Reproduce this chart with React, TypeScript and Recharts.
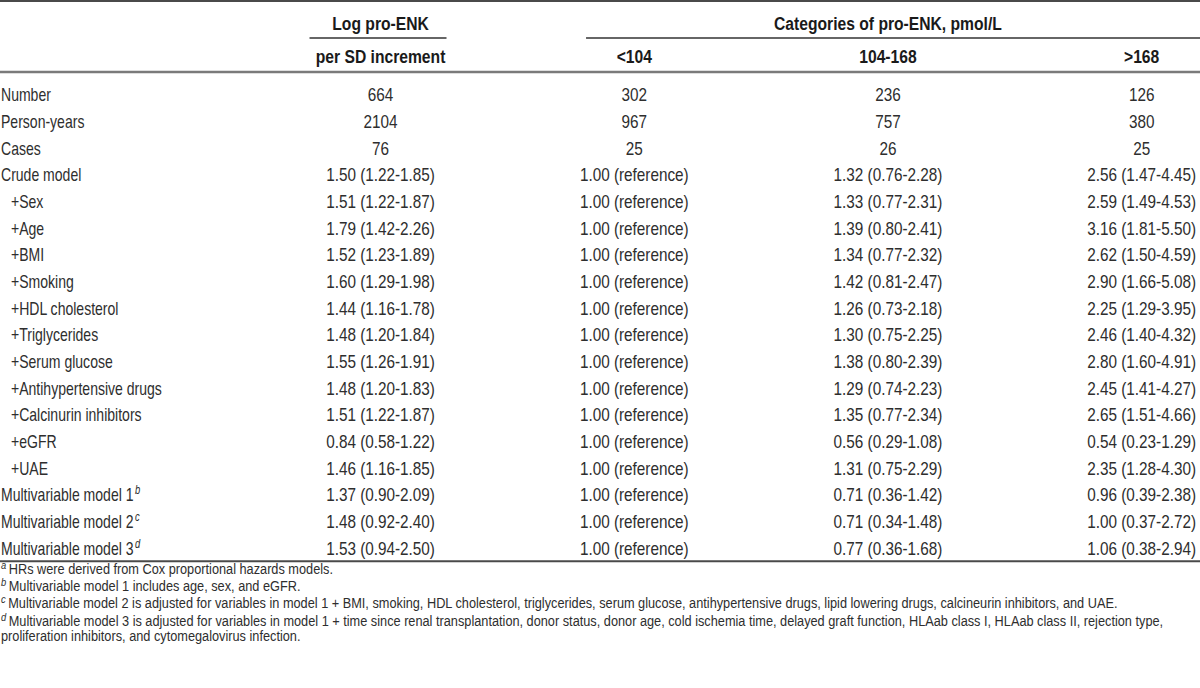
import { ReferenceLine, Scatter, ScatterChart, XAxis, YAxis } from "recharts";

const rowLabels = [
  "Number",
  "Person-years",
  "Cases",
  "Crude model",
  "+Sex",
  "+Age",
  "+BMI",
  "+Smoking",
  "+HDL cholesterol",
  "+Triglycerides",
  "+Serum glucose",
  "+Antihypertensive drugs",
  "+Calcinurin inhibitors",
  "+eGFR",
  "+UAE",
  "Multivariable model 1",
  "Multivariable model 2",
  "Multivariable model 3",
];
const rowNotes = ["", "", "", "", "", "", "", "", "", "", "", "", "", "", "", "b", "c", "d"];

const perSdIncrement = [
  "664", "2104", "76",
  "1.50 (1.22-1.85)", "1.51 (1.22-1.87)", "1.79 (1.42-2.26)", "1.52 (1.23-1.89)",
  "1.60 (1.29-1.98)", "1.44 (1.16-1.78)", "1.48 (1.20-1.84)", "1.55 (1.26-1.91)",
  "1.48 (1.20-1.83)", "1.51 (1.22-1.87)", "0.84 (0.58-1.22)", "1.46 (1.16-1.85)",
  "1.37 (0.90-2.09)", "1.48 (0.92-2.40)", "1.53 (0.94-2.50)",
];
const below104 = [
  "302", "967", "25",
  "1.00 (reference)", "1.00 (reference)", "1.00 (reference)", "1.00 (reference)",
  "1.00 (reference)", "1.00 (reference)", "1.00 (reference)", "1.00 (reference)",
  "1.00 (reference)", "1.00 (reference)", "1.00 (reference)", "1.00 (reference)",
  "1.00 (reference)", "1.00 (reference)", "1.00 (reference)",
];
const from104to168 = [
  "236", "757", "26",
  "1.32 (0.76-2.28)", "1.33 (0.77-2.31)", "1.39 (0.80-2.41)", "1.34 (0.77-2.32)",
  "1.42 (0.81-2.47)", "1.26 (0.73-2.18)", "1.30 (0.75-2.25)", "1.38 (0.80-2.39)",
  "1.29 (0.74-2.23)", "1.35 (0.77-2.34)", "0.56 (0.29-1.08)", "1.31 (0.75-2.29)",
  "0.71 (0.36-1.42)", "0.71 (0.34-1.48)", "0.77 (0.36-1.68)",
];
const above168 = [
  "126", "380", "25",
  "2.56 (1.47-4.45)", "2.59 (1.49-4.53)", "3.16 (1.81-5.50)", "2.62 (1.50-4.59)",
  "2.90 (1.66-5.08)", "2.25 (1.29-3.95)", "2.46 (1.40-4.32)", "2.80 (1.60-4.91)",
  "2.45 (1.41-4.27)", "2.65 (1.51-4.66)", "0.54 (0.23-1.29)", "2.35 (1.28-4.30)",
  "0.96 (0.39-2.38)", "1.00 (0.37-2.72)", "1.06 (0.38-2.94)",
];

const groupHeaders = ["Log pro-ENK", "Categories of pro-ENK, pmol/L"];
const columnHeaders = ["per SD increment", "<104", "104-168", ">168"];

const footnoteMarks = ["a", "b", "c", "d", ""];
const footnotes = [
  "HRs were derived from Cox proportional hazards models.",
  "Multivariable model 1 includes age, sex, and eGFR.",
  "Multivariable model 2 is adjusted for variables in model 1 + BMI, smoking, HDL cholesterol, triglycerides, serum glucose, antihypertensive drugs, lipid lowering drugs, calcineurin inhibitors, and UAE.",
  "Multivariable model 3 is adjusted for variables in model 1 + time since renal transplantation, donor status, donor age, cold ischemia time, delayed graft function, HLAab class I, HLAab class II, rejection type,",
  "proliferation inhibitors, and cytomegalovirus infection.",
];

const W = 1200;
const H = 688;
// no condensed face installed, so the regular one is squeezed horizontally
const FONT = "'Liberation Sans', Arial, sans-serif";
const LABEL_X = -0.5;
const footY = [17.96, 18.62, 19.26, 19.92, 20.5];

const labelData = rowLabels.map((text, i) => ({ x: LABEL_X, y: i, text, note: rowNotes[i] }));
const cells = (values: string[], col: number) => values.map((text, i) => ({ x: col, y: i, text }));
const groupData = [
  { x: 1, y: -2.7, text: groupHeaders[0] },
  { x: 3, y: -2.7, text: groupHeaders[1] },
];
const headerData = columnHeaders.map((text, i) => ({ x: i + 1, y: -1.43, text }));
const footData = footnotes.map((text, i) => ({ x: LABEL_X, y: footY[i], text, note: footnoteMarks[i] }));

const squeeze = (x: number, y: number, s: number) => `translate(${x},${y}) scale(${s},1)`;

const ValueCell = ({ cx, cy, payload }: any) => (
  <text
    transform={squeeze(cx, cy, 0.85)}
    dy="0.36em"
    textAnchor="middle"
    fontFamily={FONT}
    fontSize={18}
    fill="#2e2e2e"
  >
    {payload.text}
  </text>
);

const HeaderCell = ({ cx, cy, payload }: any) => (
  <text
    transform={squeeze(cx, cy, 0.87)}
    dy="0.36em"
    textAnchor="middle"
    fontFamily={FONT}
    fontSize={18}
    fontWeight="bold"
    fill="#1a1a1a"
  >
    {payload.text}
  </text>
);

const RowLabel = ({ cx, cy, payload }: any) => (
  <text
    transform={squeeze(cx + (payload.text.startsWith("+") ? 11 : 1), cy, 0.78)}
    dy="0.36em"
    fontFamily={FONT}
    fontSize={18}
    fill="#2e2e2e"
  >
    {payload.text}
    {payload.note && (
      <tspan dy={-7} dx={2} fontSize={12} fontStyle="italic">
        {payload.note}
      </tspan>
    )}
  </text>
);

const FootLine = ({ cx, cy, payload }: any) => (
  <text transform={squeeze(cx + 1, cy, 0.85)} dy="0.36em" fontFamily={FONT} fontSize={15} fill="#2e2e2e">
    {payload.note && (
      <tspan dy={-5} fontSize={11} fontStyle="italic">
        {payload.note}
      </tspan>
    )}
    <tspan dy={payload.note ? 5 : 0} dx={payload.note ? 3 : 0}>
      {payload.text}
    </tspan>
  </text>
);

export default function App() {
  return (
    <div style={{ width: W, height: H, background: "#fff" }}>
      <style>{"body{margin:0}"}</style>
      <ScatterChart width={W} height={H} margin={{ top: 0, right: 0, bottom: 0, left: 0 }}>
        <XAxis type="number" dataKey="x" domain={[-0.5, 4.23]} allowDataOverflow hide />
        <YAxis type="number" dataKey="y" domain={[-3.565, 22.25]} allowDataOverflow reversed hide />
        <ReferenceLine y={-3.53} stroke="#4a4a4a" strokeWidth={2} />
        <ReferenceLine
          segment={[{ x: 0.72, y: -2.14 }, { x: 1.26, y: -2.14 }]}
          stroke="#333"
          strokeWidth={1.3}
        />
        <ReferenceLine
          segment={[{ x: 1.81, y: -2.14 }, { x: 4.23, y: -2.14 }]}
          stroke="#333"
          strokeWidth={1.3}
        />
        <ReferenceLine y={-0.86} stroke="#7a7a7a" strokeWidth={2.5} />
        <ReferenceLine y={17.49} stroke="#4a4a4a" strokeWidth={2} />
        <Scatter data={groupData} shape={HeaderCell} isAnimationActive={false} />
        <Scatter data={headerData} shape={HeaderCell} isAnimationActive={false} />
        <Scatter data={labelData} shape={RowLabel} isAnimationActive={false} />
        <Scatter data={cells(perSdIncrement, 1)} shape={ValueCell} isAnimationActive={false} />
        <Scatter data={cells(below104, 2)} shape={ValueCell} isAnimationActive={false} />
        <Scatter data={cells(from104to168, 3)} shape={ValueCell} isAnimationActive={false} />
        <Scatter data={cells(above168, 4)} shape={ValueCell} isAnimationActive={false} />
        <Scatter data={footData} shape={FootLine} isAnimationActive={false} />
      </ScatterChart>
    </div>
  );
}
